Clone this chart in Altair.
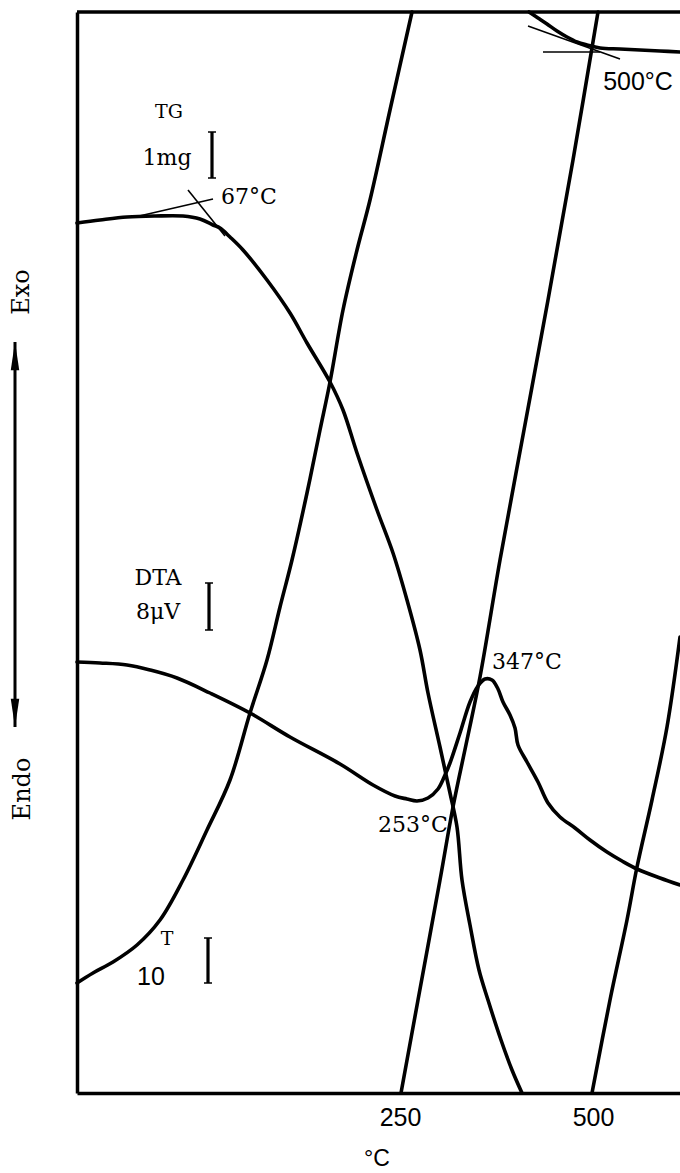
import altair as alt
import pandas as pd

# Chart units: x = recorder-chart position (0 = left frame), y = height above baseline
# ---- curves ----
tg1_x = [0, 23, 50, 78, 106, 123, 136, 143, 153, 166, 190, 213, 230, 253, 266, 280, 300, 316, 330, 343, 351, 363, 373, 380, 385, 393, 402, 411, 424, 435, 445]
tg1_y = [870, 873, 876, 877, 877, 874, 868, 865, 856, 843, 813, 780, 750, 711, 683, 640, 583, 540, 493, 443, 400, 346, 300, 266, 213, 168, 123, 93, 53, 23, 0]

tg2_x = [452, 461, 470, 480, 490, 500, 510, 523, 543, 563, 583, 603]
tg2_y = [1081, 1075, 1069, 1062, 1056, 1051, 1048, 1045, 1044, 1043, 1042, 1041]

dta_x = [0, 23, 50, 73, 100, 133, 173, 213, 263, 296, 318, 330, 340, 351, 361, 368, 373, 383, 393, 401, 408, 415, 421, 426, 433, 438, 441, 450, 461, 471, 483, 498, 513, 530, 545, 560, 583, 603]
dta_y = [431, 430, 428, 423, 415, 400, 380, 356, 329, 308, 297, 294, 292, 295, 304, 318, 330, 360, 391, 407, 414, 413, 404, 391, 378, 365, 348, 331, 311, 290, 276, 265, 253, 241, 232, 224, 215, 208]

t1_x = [0, 16, 36, 60, 83, 106, 130, 153, 173, 190, 203, 215, 230, 243, 253, 266, 280, 293, 313, 335]
t1_y = [110, 120, 131, 148, 173, 213, 263, 313, 380, 433, 486, 533, 600, 663, 711, 783, 843, 893, 983, 1081]

t2_x = [324, 341, 363, 376, 390, 403, 423, 447, 471, 496, 521]
t2_y = [0, 93, 213, 286, 353, 416, 533, 663, 793, 933, 1081]

t3_x = [515, 533, 550, 560, 575, 590, 603]
t3_y = [0, 93, 173, 226, 293, 366, 456]

# thin tangent construction lines
tan_names = ["a", "a", "b", "b", "c", "c", "d", "d"]
tan_x = [58, 136, 111, 148, 466, 523, 451, 543]
tan_y = [876, 894, 903, 857, 1041, 1041, 1067, 1034]

# scale bars (TG 1mg, DTA 8uV, T 10)
bar_x = [135, 132, 131]
bar_y1 = [915, 463, 110]
bar_y2 = [961, 510, 155]

# x-axis tick labels
tick_pos = [323, 516]
tick_labels = ["250", "500"]

# ---- text ----
serif_text = ["1mg", "DTA", "8μV", "67°C", "347°C", "253°C"]
serif_x = [90, 81, 81, 172, 450, 336]
serif_y = [935, 515, 481, 896, 431, 268]

small_text = ["TG", "T"]
small_x = [92, 90]
small_y = [981, 154]

side_text = ["Exo", "Endo"]
side_x = [-55, -54]
side_y = [801, 304]

sans_text = ["500°C", "10", "°C"]
sans_x = [561, 74, 300]
sans_y = [1011, 116, -66]
sans_size = [25, 25, 23]

XD = [0, 603]
YD = [0, 1081]

rows = []
for name, xs_, ys_ in [("TG1", tg1_x, tg1_y), ("TG2", tg2_x, tg2_y), ("DTA", dta_x, dta_y),
                       ("T1", t1_x, t1_y), ("T2", t2_x, t2_y), ("T3", t3_x, t3_y)]:
    for i, (a, b) in enumerate(zip(xs_, ys_)):
        rows.append({"s": name, "i": i, "x": a, "y": b})
curves = pd.DataFrame(rows)
tang = pd.DataFrame({"s": tan_names, "i": list(range(len(tan_x))), "x": tan_x, "y": tan_y})

xs = alt.Scale(domain=XD, nice=False, zero=False)
ys = alt.Scale(domain=YD, nice=False, zero=False)

label_expr = " : ".join(
    [f"datum.value == {p} ? '{l}'" for p, l in zip(tick_pos, tick_labels)]) + " : ''"

base_x = alt.X("x:Q", scale=xs, axis=alt.Axis(
    values=tick_pos, labelExpr=label_expr, title=None, ticks=False, grid=False,
    domainColor="black", domainWidth=3.5, labelFont="Liberation Sans", labelFontSize=25,
    labelColor="black", labelPadding=12, labelFlush=False))
base_y = alt.Y("y:Q", scale=ys, axis=alt.Axis(
    labels=False, ticks=False, grid=False, title=None, domainColor="black", domainWidth=3.5))

lines = alt.Chart(curves).mark_line(color="black", strokeWidth=3.6, strokeJoin="round",
                                    strokeCap="round", interpolate="catmull-rom").encode(
    x=base_x, y=base_y, detail="s:N", order="i:Q")

thin = alt.Chart(tang).mark_line(color="black", strokeWidth=1.6).encode(
    x=alt.X("x:Q", scale=xs), y=alt.Y("y:Q", scale=ys), detail="s:N", order="i:Q")

top = alt.Chart(pd.DataFrame({"x": [XD[0]], "x2": [XD[1]], "y": [YD[1]]})).mark_rule(
    color="black", strokeWidth=3.5).encode(
    x=alt.X("x:Q", scale=xs), x2="x2:Q", y=alt.Y("y:Q", scale=ys))

bars_df = pd.DataFrame({"x": bar_x, "y": bar_y1, "y2": bar_y2,
                        "xl": [v - 4 for v in bar_x], "xr": [v + 4 for v in bar_x]})
bars = alt.Chart(bars_df).mark_rule(color="black", strokeWidth=3.2).encode(
    x=alt.X("x:Q", scale=xs), y=alt.Y("y:Q", scale=ys), y2="y2:Q")
caps_lo = alt.Chart(bars_df).mark_rule(color="black", strokeWidth=1.5).encode(
    x=alt.X("xl:Q", scale=xs), x2="xr:Q", y=alt.Y("y:Q", scale=ys))
caps_hi = alt.Chart(bars_df).mark_rule(color="black", strokeWidth=1.5).encode(
    x=alt.X("xl:Q", scale=xs), x2="xr:Q", y=alt.Y("y2:Q", scale=ys))

arrow_df = pd.DataFrame({"x": [-62], "y": [366], "y2": [751]})
arrow = alt.Chart(arrow_df).mark_rule(color="black", strokeWidth=3).encode(
    x=alt.X("x:Q", scale=xs), y=alt.Y("y:Q", scale=ys), y2="y2:Q")
heads_df = pd.DataFrame({"x": [-62, -62], "y": [737, 380], "dir": ["up", "down"]})
head_up = alt.Chart(heads_df[heads_df.dir == "up"]).mark_point(
    shape="M0,-1L0.3,1L-0.3,1Z", size=800, filled=True, color="black", opacity=1).encode(
    x=alt.X("x:Q", scale=xs), y=alt.Y("y:Q", scale=ys))
head_dn = alt.Chart(heads_df[heads_df.dir == "down"]).mark_point(
    shape="M0,1L0.3,-1L-0.3,-1Z", size=800, filled=True, color="black", opacity=1).encode(
    x=alt.X("x:Q", scale=xs), y=alt.Y("y:Q", scale=ys))

def texts(t, x, y, font, size, angle=0):
    df = pd.DataFrame({"t": t, "x": x, "y": y})
    kw = dict(font=font, fontSize=size, color="black", align="center", baseline="middle")
    if angle:
        kw["angle"] = angle
    return alt.Chart(df).mark_text(**kw).encode(
        x=alt.X("x:Q", scale=xs), y=alt.Y("y:Q", scale=ys), text="t:N")

t_serif = texts(serif_text, serif_x, serif_y, "DejaVu Serif", 22)
t_small = texts(small_text, small_x, small_y, "DejaVu Serif", 19)
t_side = texts(side_text, side_x, side_y, "DejaVu Serif", 24, angle=270)
sans_df = pd.DataFrame({"t": sans_text, "x": sans_x, "y": sans_y, "s": sans_size})
t_sans = alt.Chart(sans_df).mark_text(font="Liberation Sans", color="black", align="center", baseline="middle").encode(
    x=alt.X("x:Q", scale=xs), y=alt.Y("y:Q", scale=ys), text="t:N",
    size=alt.Size("s:Q", scale=None, legend=None))

chart = alt.layer(lines, thin, top, bars, caps_lo, caps_hi, arrow, head_up, head_dn,
                  t_serif, t_small, t_side, t_sans).properties(
    width=603, height=1081,
    autosize=alt.AutoSizeParams(type="none"),
    padding={"left": 77, "top": 12, "right": 0, "bottom": 80},
    background="white",
).configure_view(stroke=None)

chart.save("out.html", embed_options={"renderer": "svg", "actions": False})
